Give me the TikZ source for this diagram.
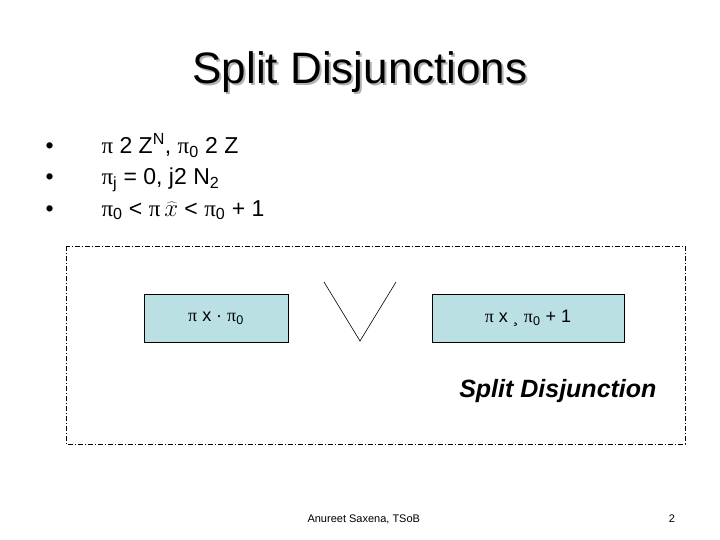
\documentclass[tikz,border=0pt]{standalone}
\usepackage{fontspec}
\setmainfont{Liberation Sans}
\newfontfamily\symfont{Liberation Serif}
\newcommand{\spi}{{\symfont π}}
\usetikzlibrary{positioning}
\definecolor{boxblue}{RGB}{187,224,227}

\begin{document}
\begin{tikzpicture}[x=1pt,y=-1pt,
	sdbox/.style={draw,fill=boxblue,line width=0.8pt,minimum width=144pt,minimum height=48pt,font=\fontsize{18}{21}\selectfont},
	bulletline/.style={anchor=base west,font=\fontsize{23}{27}\selectfont}]
	\useasboundingbox[fill=white] (0,0) rectangle (720,540);
	% Tiêu đề
	\node[text=black!30,anchor=base,font=\fontsize{44}{50}\selectfont] (shadow) at (362,86) {Split Disjunctions};
	\node[anchor=base,font=\fontsize{44}{50}\selectfont] (title) at (360,84) {Split Disjunctions};
	\foreach \i/\y in {1/154,2/185,3/216}
		\node[bulletline] (dot\i) at (42,\y) {•};
	\node[bulletline] (l1) at (98,154) {\spi\ 2 Z\textsuperscript{N}, \spi$_{\mathrm{0}}$ 2 Z};
	\node[bulletline] (l2) at (98,185) {\spi$_{\mathrm{j}}$ = 0, j2 N$_{\mathrm{2}}$};
	\node[bulletline] (l3) at (98,216) {\spi$_{\mathrm{0}}$ < \spi\,$\widehat{x}$ < \spi$_{\mathrm{0}}$ + 1};
	% Khung
	\draw[line width=0.6pt,dash pattern=on 5pt off 2pt on 1pt off 2pt] (66,246) rectangle (685,444);
	\node[sdbox,minimum width=144pt] (left) at (216,318) {\spi\ x · \spi$_{\mathrm{0}}$};
	\node[sdbox,minimum width=192pt] (right) at (528,318) {\spi\ x ¸ \spi$_{\mathrm{0}}$ + 1};
	\draw[line width=0.6pt] (324,282) -- (360,341) -- (396,282);
	\node[anchor=base east,font=\fontsize{25}{29}\selectfont\bfseries\itshape] (sdlabel) at (660,397) {Split Disjunction};
	% Chân trang
	\node[anchor=base west,font=\fontsize{11}{13}\selectfont] (author) at (304,522) {Anureet Saxena, TSoB};
	\node[anchor=base,font=\fontsize{11}{13}\selectfont] (page) at (672,522) {2};
\end{tikzpicture}
\end{document}
